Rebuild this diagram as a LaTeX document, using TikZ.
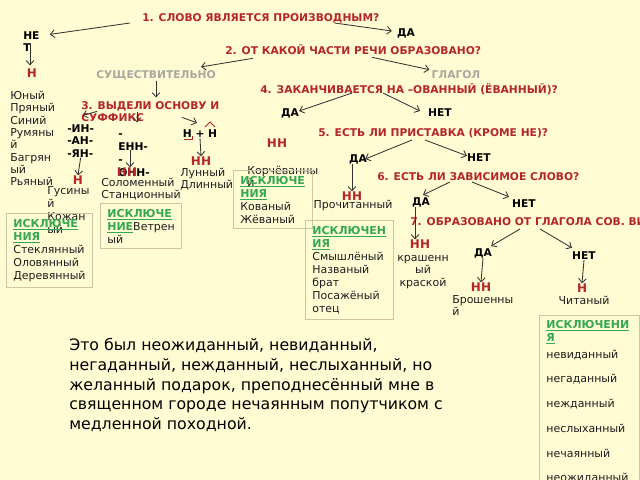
\documentclass[tikz,border=0pt]{standalone}
\usepackage{fontspec}
\setmainfont{DejaVu Sans}
\usetikzlibrary{arrows.meta, calc}
\definecolor{bgcream}{HTML}{FFFCD4}
\definecolor{qred}{HTML}{B3262B}
\definecolor{exgreen}{HTML}{35A853}
\definecolor{posgrey}{HTML}{A8A8A0}
\definecolor{boxline}{HTML}{C9C6A5}
\definecolor{arrdark}{HTML}{333333}
\definecolor{wordink}{HTML}{1E1E1E}
\newcommand{\excl}[1]{\textcolor{exgreen}{\bfseries\underline{#1}}}

\begin{document}
\begin{tikzpicture}[x=0.025cm, y=-0.025cm, inner sep=0pt,
      qst/.style={anchor=west, text=qred, font=\fontsize{7.6}{8.5}\selectfont\bfseries},
      ans/.style={text=black, font=\fontsize{7.6}{8.8}\selectfont\bfseries},
      res/.style={text=qred, font=\fontsize{8.5}{9}\selectfont\bfseries},
      partsp/.style={text=posgrey, font=\fontsize{7.6}{8.8}\selectfont\bfseries},
      wrd/.style={anchor=north west, align=left, text=wordink, font=\fontsize{7.8}{8.8}\selectfont},
      excbox/.style={wrd, draw=boxline, line width=.5pt, inner xsep=5pt, inner ysep=3.5pt, font=\fontsize{7.8}{9.3}\selectfont},
      arr/.style={-{Straight Barb[length=3pt,width=5.5pt]}, draw=arrdark, line width=.6pt}]

      \useasboundingbox (0,0) rectangle (640,480);
      \fill[bgcream] (0,0) rectangle (640,480);
      \clip (0,0) rectangle (640,480);

      % questions
      \node[qst] (q1) at (142,18) {1. СЛОВО ЯВЛЯЕТСЯ ПРОИЗВОДНЫМ?};
      \node[qst] (q2) at (225,50) {2. ОТ КАКОЙ ЧАСТИ РЕЧИ ОБРАЗОВАНО?};
      \node[qst, anchor=north west, align=left] (q3) at (81,100.4) {\strut 3. ВЫДЕЛИ ОСНОВУ И\\СУФФИКС};
      \node[qst] (q4) at (260,89) {4. ЗАКАНЧИВАЕТСЯ НА –ОВАННЫЙ (ЁВАННЫЙ)?};
      \node[qst] (q5) at (318,133) {5. ЕСТЬ ЛИ ПРИСТАВКА (КРОМЕ НЕ)?};
      \node[qst] (q6) at (377,177) {6. ЕСТЬ ЛИ ЗАВИСИМОЕ СЛОВО?};
      \node[qst] (q7) at (410,222) {7. ОБРАЗОВАНО ОТ ГЛАГОЛА СОВ. ВИДА?};

      % answers
      \node[ans, anchor=north west, align=left] (net1) at (23,30.4) {\strut НЕ\\Т};
      \node[ans] (da1) at (406,33) {ДА};
      \node[partsp] (noun) at (156,75) {СУЩЕСТВИТЕЛЬНО};
      \node[partsp] (verb) at (456,75) {ГЛАГОЛ};
      \node[ans] (da4) at (290,113) {ДА};
      \node[ans] (net4) at (440,113) {НЕТ};
      \node[ans] (da5) at (358,159) {ДА};
      \node[ans] (net5) at (479,158) {НЕТ};
      \node[ans] (da6) at (421,202) {ДА};
      \node[ans] (net6) at (524,204) {НЕТ};
      \node[ans] (da7) at (483,253) {ДА};
      \node[ans] (net7) at (584,256) {НЕТ};

      % suffixes
      \node[ans, anchor=north west, align=left, font=\fontsize{7.6}{8.86}\selectfont\bfseries] (sfx1) at (67,123.4) {\strut -ИН-\\-АН-\\-ЯН-};
      \node[ans, anchor=north west, align=left, font=\fontsize{7.6}{9.2}\selectfont\bfseries] (sfx2) at (118,128.4) {\strut -\\ЕНН-\\-\\ОНН-};
      \node[ans] (sfx3) at (200,134) {Н + Н};
      \draw[qred, line width=.6pt] (184,139) -- (192,139) -- (192,136);
      \draw[qred, line width=.6pt] (205,127) -- (210,122) -- (215,127);

      % results
      \node[res] (h1) at (32,73) {Н};
      \node[res] (h2) at (78,180) {Н};
      \node[res] (nn2) at (127,172) {НН};
      \node[res] (nn3) at (201,161) {НН};
      \node[res] (nn4) at (277,143) {НН};
      \node[res] (nn5) at (352,196) {НН};
      \node[res] (nn7) at (420,244) {НН};
      \node[res] (nn8) at (481,287) {НН};
      \node[res] (h7) at (582,288) {Н};

      % examples
      \node[wrd] (adj) at (10,90.4) {\strut Юный\\Пряный\\Синий\\Румяны\\й\\Багрян\\ый\\Рьяный};
      \node[wrd, font=\fontsize{7.8}{9.2}\selectfont] (gusin) at (47,185.4) {\strut Гусины\\й\\Кожан\\ый};
      \node[wrd] (solom) at (101,177.4) {\strut Соломенный\\Станционный};
      \node[wrd] (lunny) at (180,167.4) {\strut Лунный\\Длинный};
      \node[wrd] (korch) at (247,165.4) {\strut Корчёванны\\й};
      \node[wrd, anchor=center] (prochit) at (353,205) {Прочитанный};
      \node[wrd, anchor=north, align=center] (krash) at (423,252.4) {\strut крашенн\\ый\\краской};
      \node[wrd] (brosh) at (452,294.4) {\strut Брошенны\\й};
      \node[wrd, anchor=center] (chit) at (584,300) {Читаный};

      % exceptions
      \node[excbox] (excA) at (6,213) {\strut\excl{ИСКЛЮЧЕ}\\\excl{НИЯ}\\Стеклянный\\Оловянный\\Деревянный};
      \node[excbox] (excB) at (100,203) {\strut\excl{ИСКЛЮЧЕ}\\\excl{НИЕ}Ветрен\\ый};
      \node[excbox] (excC) at (233,170) {\strut\excl{ИСКЛЮЧЕ}\\\excl{НИЯ}\\Кованый\\Жёваный};
      \node[excbox] (excD) at (305,220) {\strut\excl{ИСКЛЮЧЕН}\\\excl{ИЯ}\\Смышлёный\\Названый\\брат\\Посажёный\\отец};
      \node[excbox, text width=61pt, font=\fontsize{7.8}{8}\selectfont] (excE) at (539,315) {\strut\excl{ИСКЛЮЧЕНИ}\\\excl{Я}\\[4pt]невиданный\\[9.6pt]негаданный\\[9.6pt]нежданный\\[9.6pt]неслыханный\\[9.6pt]нечаянный\\[9.6pt]неожиданный};

      \node[wrd, text=black, font=\fontsize{11.2}{13.9}\selectfont] (para) at (69,337) {\strut Это был неожиданный, невиданный,\\негаданный, нежданный, неслыханный, но\\желанный подарок, преподнесённый мне в\\священном городе нечаянным попутчиком с\\медленной походной.};

      % arrows
      \draw[arr] ($(q1.west)+(-12,5)$) -- ($(net1.north east)+(10,4)$); \draw[arr] ($(q1.east)+(-45,5)$) -- ($(da1.west)+(-5,-2)$);
      \draw[arr] ($(net1.north west)+(7,13)$) -- ($(h1.north)+(-2,-3)$);
      \draw[arr] ($(q2.south west)+(28,3)$) -- ($(noun.north east)+(-15,-3)$); \draw[arr] ($(q2.south west)+(147,2)$) -- ($(verb.north west)+(-2,-1)$);
      \draw[arr] ($(noun.south)+(0,1)$) -- ($(noun.south |- q3.north)+(0,-3)$);
      \draw[arr] ($(q3.north west)+(16,11)$) -- ($(sfx1.north)+(2,-8)$); \draw[arr] ($(q3.north west)+(56,12)$) -- ($(sfx2.north west)+(19,-6)$);
      \draw[arr] ($(q3.north west)+(101,17)$) -- ($(sfx3.north)+(-3,-7)$);
      \draw[arr] (sfx1.south) -- (h2.north); \draw[arr] ($(sfx2.north west)+(12,22)$) -- ($(nn2.north)+(3,0)$); \draw[arr] (sfx3.south) -- (nn3.north);
      \draw[arr] ($(q4.west)+(92,4)$) -- ($(da4.east)+(0,-2)$); \draw[arr] ($(q4.west)+(123,4)$) -- ($(net4.west)+(-8,-2)$);
      \draw[arr] ($(q5.west)+(94,7)$) -- ($(da5.east)+(-2,0)$); \draw[arr] ($(q5.west)+(107,7)$) -- ($(net5.north west)+(0,2)$);
      \draw[arr] (nn5.north |- da5.south) -- (nn5.north);
      \draw[arr] ($(q6.west)+(73,5)$) -- ($(da6.north)+(2,-2)$); \draw[arr] ($(q6.west)+(95,5)$) -- ($(net6.north west)+(-3,-3)$);
      \draw[arr] ($(da6.south)+(-6,0)$) -- ($(nn7.north)+(-5,0)$);
      \draw[arr] ($(q7.west)+(110,7)$) -- ($(da7.north east)+(-1,-2)$); \draw[arr] ($(q7.west)+(130,7)$) -- ($(net7.north west)+(0,-4)$);
      \draw[arr] (da7.south) -- (nn8.north); \draw[arr] (net7.south) -- (h7.north);
    \end{tikzpicture}
\end{document}
